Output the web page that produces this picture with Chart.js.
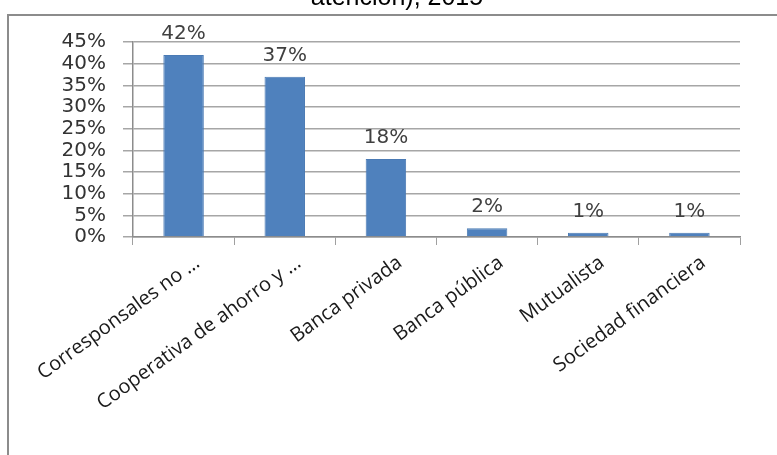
<!DOCTYPE html>
<html>
<head>
<meta charset="utf-8">
<script src="https://cdn.jsdelivr.net/npm/chart.js@4"></script>
<style>
  html, body { margin: 0; padding: 0; background: #fff; }
  #chart1 { display: block; }
</style>
</head>
<body>
<canvas id="chart1" width="777" height="455"></canvas>
<script>
// Data
const categories = ['Corresponsales no …', 'Cooperativa de ahorro y …', 'Banca privada', 'Banca pública', 'Mutualista', 'Sociedad financiera'];
const shares = [42, 37, 18, 2, 1, 1];
const yTicks = [0, 5, 10, 15, 20, 25, 30, 35, 40, 45];
const titleText = 'atención), 2015';

// Frame and cut-off title
const framePlugin = {
    id: 'frame',
    beforeDraw(chart) {
        const c = chart.ctx;
        c.save();
        c.fillStyle = '#fff';
        c.fillRect(0, 0, chart.width, chart.height);
        c.strokeStyle = '#8c8c8c';
        c.lineWidth = 2;
        c.beginPath();
        c.moveTo(8, chart.height + 2);
        c.lineTo(8, 15);
        c.lineTo(chart.width + 2, 15);
        c.stroke();
        c.fillStyle = '#000';
        c.font = '25px "Liberation Sans", Arial, sans-serif';
        c.textAlign = 'center';
        c.textBaseline = 'alphabetic';
        c.fillText(titleText, 397, 5);
        c.restore();
    }
};

// Value labels above the bars
const labelPlugin = {
    id: 'barLabels',
    afterDatasetsDraw(chart) {
        const c = chart.ctx;
        const meta = chart.getDatasetMeta(0);
        c.save();
        c.fillStyle = '#404040';
        c.font = '20px "DejaVu Sans", sans-serif';
        c.textAlign = 'center';
        c.textBaseline = 'alphabetic';
        meta.data.forEach((bar, i) => {
            c.fillText(shares[i] + '%', bar.x, bar.y - 16);
        });
        c.restore();
    }
};

const data = {
    labels: categories,
    datasets: [{
        data: shares,
        backgroundColor: '#4f81bd',
        borderColor: '#4a7ab4',
        borderWidth: 1,
        barPercentage: 0.8,
        categoryPercentage: 0.5
    }]
};

const options = {
    responsive: false,
    animation: false,
    layout: { padding: { top: 42, right: 37, left: 0, bottom: 0 } },
    plugins: {
        legend: { display: false },
        title: { display: false },
        tooltip: { enabled: false }
    },
    scales: {
        x: {
            grid: {
                offset: true,
                drawOnChartArea: false,
                drawTicks: true,
                tickLength: 8,
                color: '#a0a0a0'
            },
            border: { color: '#8c8c8c', width: 1.5 },
            ticks: {
                autoSkip: false,
                minRotation: 36,
                maxRotation: 36,
                padding: 6,
                labelOffset: 14,
                color: '#1a1a1a',
                font: { family: '"Open Sans", sans-serif', size: 20 }
            },
            afterFit(scale) {
                scale.height = 455 - 237;
                scale.paddingLeft = 0;
                scale.paddingRight = 0;
            }
        },
        y: {
            min: 0,
            max: 45,
            afterBuildTicks(scale) {
                scale.ticks = yTicks.map(v => ({ value: v }));
            },
            grid: {
                color: '#a6a6a6',
                lineWidth: 1.5,
                drawTicks: true,
                tickLength: 10
            },
            border: { color: '#8c8c8c', width: 1.5 },
            ticks: {
                autoSkip: false,
                padding: 17,
                color: '#333',
                font: { family: '"DejaVu Sans", sans-serif', size: 20 },
                callback: v => v + '%'
            },
            afterFit(scale) {
                scale.width = 133;
            }
        }
    }
};

const ctx = document.getElementById('chart1').getContext('2d');
const myChart = new Chart(ctx, {
    type: 'bar',
    data: data,
    options: options,
    plugins: [framePlugin, labelPlugin]
});
</script>
</body>
</html>
